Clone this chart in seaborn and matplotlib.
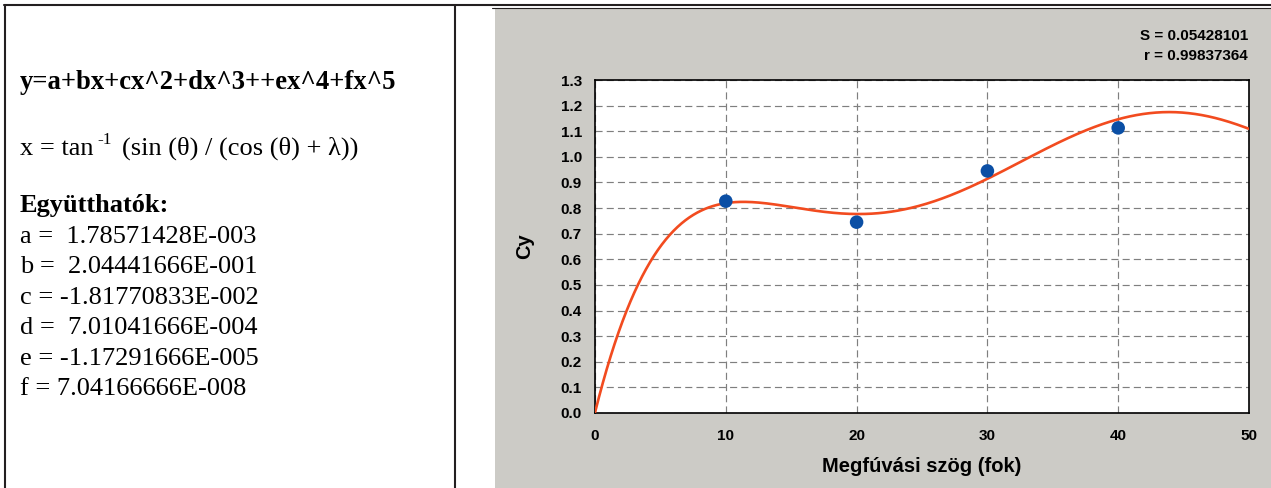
import numpy as np
import pandas as pd
import matplotlib
matplotlib.use("Agg")
import matplotlib.pyplot as plt
from matplotlib.ticker import MultipleLocator
from matplotlib.patches import Rectangle
from matplotlib.lines import Line2D
import seaborn as sns

# Measured points: lift coefficient vs blowing angle
angle_deg = [10, 20, 30, 40]
cy_measured = [0.827, 0.745, 0.945, 1.113]

# Fitted 5th order polynomial, coefficients as printed next to the chart
coef_names = ["a", "b", "c", "d", "e", "f"]
coef_text = [" 1.78571428E-003", " 2.04441666E-001", "-1.81770833E-002",
             " 7.01041666E-004", "-1.17291666E-005", "7.04166666E-008"]
coefs = [float(s) for s in coef_text]
fit_S = "0.05428101"
fit_r = "0.99837364"

x_major = [0, 10, 20, 30, 40, 50]
y_major = [round(0.1 * i, 1) for i in range(14)]

W, H = 1271, 488

sns.set_style("white")
plt.rcParams["font.family"] = ["Liberation Sans", "DejaVu Sans"]
plt.rcParams.update({"text.color": "black", "axes.labelcolor": "black",
                     "xtick.color": "black", "ytick.color": "black"})

fig = plt.figure(figsize=(W / 100, H / 100), dpi=100, facecolor="white")

# --- table frame and grey chart panel ---
line_kw = dict(color="#231f20", linewidth=1.5, transform=fig.transFigure, zorder=-1)
fig.add_artist(Line2D([4 / W, 1], [1 - 5 / H, 1 - 5 / H], **line_kw))
fig.add_artist(Line2D([5 / W, 5 / W], [0, 1 - 5 / H], **line_kw))
fig.add_artist(Line2D([455 / W, 455 / W], [0, 1 - 5 / H], **line_kw))
fig.add_artist(Rectangle((495 / W, 0), 1 - 495 / W, (H - 8) / H, transform=fig.transFigure,
                         facecolor="#cccbc6", edgecolor="none", zorder=-2))
fig.add_artist(Line2D([492 / W, 1], [1 - 7.5 / H, 1 - 7.5 / H], color="#231f20",
                      linewidth=0.8, transform=fig.transFigure, zorder=-1))

# --- left cell: equation and coefficients ---
serif = "Liberation Serif"
tx = 20 / W
fig.text(tx, 1 - 89 / H, "y=a+bx+cx^2+dx^3++ex^4+fx^5", family=serif, fontsize=19.2,
         fontweight="bold", va="baseline")

# x = tan^-1 (...) built from three pieces so the "-1" sits as a superscript
y_tan = 1 - 155 / H
t_tan = fig.text(tx, y_tan, "x = tan", family=serif, fontsize=19, va="baseline")
fig.canvas.draw()
rend = fig.canvas.get_renderer()
x_end = t_tan.get_window_extent(rend).x1 / W
t_sup = fig.text(x_end + 4 / W, y_tan + 11 / H, "-1", family=serif, fontsize=12.5,
                 va="baseline")
x_end = t_sup.get_window_extent(rend).x1 / W
fig.text(x_end + 10 / W, y_tan, "(sin (θ) / (cos (θ) + λ))", family=serif, fontsize=19,
         va="baseline")

fig.text(tx, 1 - 212 / H, "Együtthatók:", family=serif, fontsize=19, fontweight="bold",
         va="baseline")
for i, (name, s) in enumerate(zip(coef_names, coef_text)):
    fig.text(tx, 1 - (243 + 30.4 * i) / H, f"{name} = {s}", family=serif, fontsize=19,
             va="baseline")

# --- chart ---
ax = fig.add_axes([595 / W, 1 - 413 / H, (1249 - 595) / W, (413 - 80) / H])
ax.set_facecolor("white")

x_fit = np.linspace(0, 50, 500)
fit_df = pd.DataFrame({"angle": x_fit,
                       "cy": np.polynomial.polynomial.polyval(x_fit, coefs)})
pts_df = pd.DataFrame({"angle": angle_deg, "cy": cy_measured})

sns.lineplot(data=fit_df, x="angle", y="cy", ax=ax, color="#f24b1f", linewidth=1.9,
             zorder=3)
sns.scatterplot(data=pts_df, x="angle", y="cy", ax=ax, color="#0b4fa5", s=95,
                edgecolor="none", zorder=4)

ax.set_xlim(0, 50)
ax.set_ylim(0, 1.3)
ax.set_xticks(x_major)
ax.set_yticks(y_major)
ax.set_yticklabels([f"{v:.1f}" for v in y_major])
ax.xaxis.set_minor_locator(MultipleLocator(2.5))
ax.yaxis.set_minor_locator(MultipleLocator(0.02))

ax.grid(True, which="major", color="#7f7f7f", linewidth=0.85, linestyle=(0, (6, 3.5)))
ax.set_axisbelow(True)

for sp in ax.spines.values():
    sp.set_visible(True)
    sp.set_color("black")
    sp.set_linewidth(1.2)

ax.tick_params(which="major", direction="out", length=5.5, width=1, color="black",
               labelsize=11, labelcolor="black", pad=4)
ax.tick_params(which="minor", direction="out", length=3.5, width=1, color="black")
ax.tick_params(axis="x", which="major", pad=6)
for lab in ax.get_xticklabels() + ax.get_yticklabels():
    lab.set_fontweight("bold")

ax.set_xlabel("Megfúvási szög (fok)", fontsize=14.5, fontweight="bold")
ax.set_ylabel("Cy", fontsize=14.5, fontweight="bold")
ax.xaxis.set_label_coords(0.5, -(457 - 413) / (413 - 80))
ax.yaxis.set_label_coords(-(595 - 534) / (1249 - 595), 0.5)

fig.text(1248 / W, 1 - 40 / H, f"S = {fit_S}", fontsize=11, fontweight="bold",
         ha="right", va="baseline")
fig.text(1248 / W, 1 - 60 / H, f"r = {fit_r}", fontsize=11, fontweight="bold",
         ha="right", va="baseline")

fig.savefig("out.png", dpi=100, facecolor=fig.get_facecolor())
